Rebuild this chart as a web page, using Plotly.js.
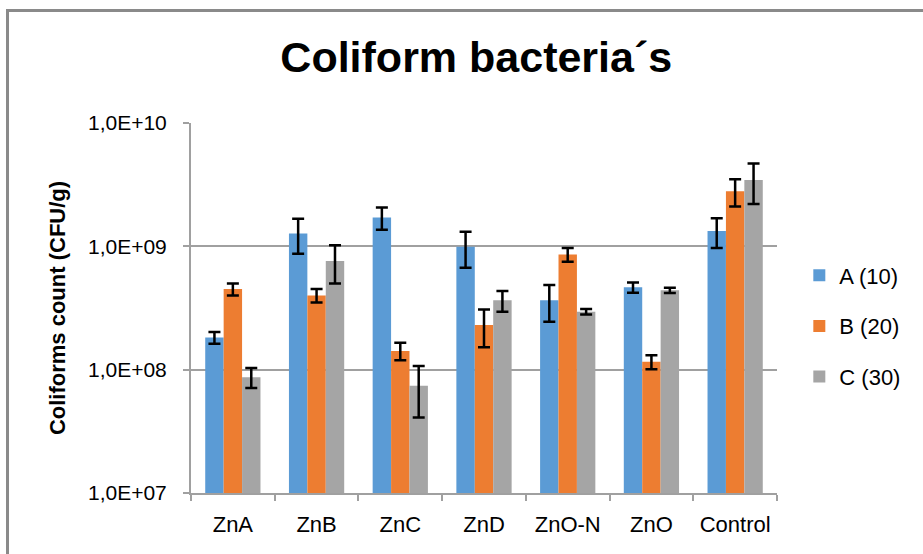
<!DOCTYPE html>
<html>
<head>
<meta charset="utf-8">
<script src="https://cdn.plot.ly/plotly-3.0.1.min.js"></script>
<style>
html,body{margin:0;padding:0;background:#fff;overflow:hidden;}
#chart{position:absolute;left:0;top:0;width:923px;height:554px;}
#frame{position:absolute;left:6px;top:9px;width:1000px;height:700px;border-left:3px solid #8a8a8a;border-top:3px solid #8a8a8a;pointer-events:none;}
</style>
</head>
<body>
<div id="chart"></div>
<div id="frame"></div>
<script>
const categories = ['ZnA','ZnB','ZnC','ZnD','ZnO-N','ZnO','Control'];
const seriesNames = ['A (10)','B (20)','C (30)'];
const valuesA = [1.82e8, 1.27e9, 1.71e9, 9.9e8, 3.65e8, 4.65e8, 1.33e9];
const valuesB = [4.5e8, 4.0e8, 1.42e8, 2.3e8, 8.6e8, 1.16e8, 2.8e9];
const valuesC = [8.7e7, 7.6e8, 7.4e7, 3.65e8, 2.95e8, 4.4e8, 3.45e9];
const errA = [2.0e7, 4.0e8, 3.5e8, 3.2e8, 1.2e8, 4.5e7, 3.6e8];
const errB = [5.0e7, 5.0e7, 2.3e7, 7.8e7, 1.1e8, 1.5e7, 7.0e8];
const errC = [1.6e7, 2.6e8, 3.3e7, 7.0e7, 1.5e7, 2.2e7, 1.25e9];
const yTickVals = [1e7, 1e8, 1e9, 1e10];
const yTickText = ['1,0E+07','1,0E+08','1,0E+09','1,0E+10'];
const colors = ['#5b9bd5','#ed7d31','#a5a5a5'];

const vals = [valuesA, valuesB, valuesC];
const errs = [errA, errB, errC];
const font = 'Liberation Sans, Arial, sans-serif';

const traces = vals.map((v, i) => ({
  type: 'bar',
  name: seriesNames[i],
  x: categories,
  y: v,
  legendgroup: 'g' + i,
  marker: {color: colors[i], line: {width: 0}},
  error_y: {type: 'data', array: errs[i], visible: true, color: '#000', thickness: 2.5, width: 6}
}));

const layout = {
  width: 923, height: 554,
  paper_bgcolor: '#fff', plot_bgcolor: '#fff',
  margin: {l: 191, r: 145.5, t: 123, b: 61, pad: 0},
  font: {family: font, size: 21, color: '#000'},
  title: {
    text: '<b>Coliform bacteria´s</b>',
    font: {family: font, size: 43, color: '#000'},
    xref: 'container', x: 0.516, xanchor: 'center',
    yref: 'container', y: 1 - 57/554, yanchor: 'middle'
  },
  barmode: 'group',
  bargap: 0.34,
  bargroupgap: 0,
  showlegend: true,
  legend: {
    xref: 'container', x: 0.866, xanchor: 'left',
    yref: 'container', y: 1 - 326/554, yanchor: 'middle',
    font: {family: font, size: 22, color: '#000'},
    traceorder: 'grouped', tracegroupgap: 19,
    bgcolor: 'rgba(0,0,0,0)', borderwidth: 0
  },
  xaxis: {
    type: 'category',
    tickson: 'boundaries',
    ticks: 'outside', ticklen: 6, tickwidth: 2, tickcolor: '#a0a0a0',
    showline: true, linecolor: '#a0a0a0', linewidth: 2,
    showgrid: false, zeroline: false,
    tickfont: {family: font, size: 22, color: '#000'},
    ticklabelstandoff: 11
  },
  yaxis: {
    type: 'log',
    range: [7, 10],
    tickvals: yTickVals, ticktext: yTickText,
    ticks: 'outside', ticklen: 6, tickwidth: 2, tickcolor: '#a0a0a0',
    showline: true, linecolor: '#a0a0a0', linewidth: 2,
    showgrid: true, gridcolor: '#a0a0a0', gridwidth: 2,
    zeroline: false,
    tickfont: {family: font, size: 21, color: '#000'},
    ticklabelstandoff: 12,
    title: {text: '<b>Coliforms count (CFU/g)</b>', font: {family: font, size: 22, color: '#000'}, standoff: 16}
  }
};

Plotly.newPlot('chart', traces, layout, {displayModeBar: false, staticPlot: true});
</script>
</body>
</html>
